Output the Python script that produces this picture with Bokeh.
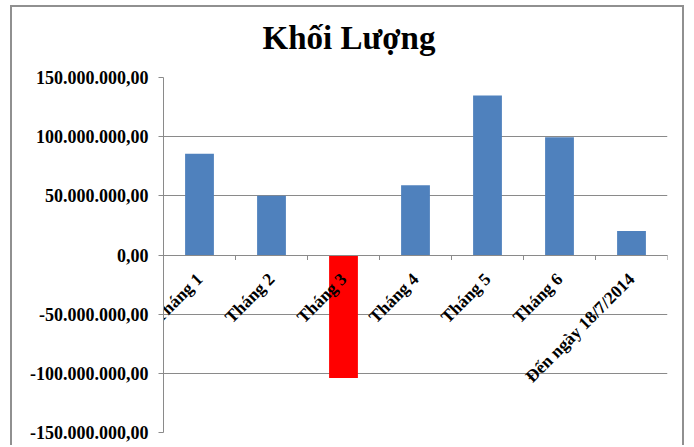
import math
from bokeh.plotting import figure
from bokeh.models import ColumnDataSource, FixedTicker, Range1d, FactorRange, Title
from bokeh.transform import dodge
from bokeh.embed import file_html
from bokeh.resources import INLINE

title_text = "Khối Lượng"
categories = ["Tháng 1", "Tháng 2", "Tháng 3", "Tháng 4", "Tháng 5", "Tháng 6",
              "Đến ngày 18/7/2014"]
volumes = [85_600_000, 50_000_000, -104_000_000, 59_000_000, 134_700_000,
           99_500_000, 20_300_000]
y_ticks = [-150_000_000, -100_000_000, -50_000_000, 0, 50_000_000,
           100_000_000, 150_000_000]
y_tick_labels = ["-150.000.000,00", "-100.000.000,00", "-50.000.000,00", "0,00",
                 "50.000.000,00", "100.000.000,00", "150.000.000,00"]

POS_COLOR = "#4F81BD"
NEG_COLOR = "#FF0000"
GRID = "#8a8a8a"
FONT = "Liberation Serif"

colors = [POS_COLOR if v >= 0 else NEG_COLOR for v in volumes]
src = ColumnDataSource(dict(cat=categories, vol=volumes, color=colors,
                            zero=[0] * len(categories)))

p = figure(width=674, height=440, title=None,
           x_range=FactorRange(factors=categories),
           y_range=Range1d(y_ticks[0], y_ticks[-1]),
           output_backend="svg", toolbar_location=None,
           min_border_left=151, min_border_right=19,
           min_border_top=70, min_border_bottom=15)
p.styles = {"margin-left": "10px", "margin-top": "5px",
            "border": "2px solid #909090", "border-bottom": "none"}
p.outline_line_color = None
p.xgrid.visible = False

# spacer between frame and title (keeps the title higher above the plot)
p.add_layout(Title(text=" ", text_font_size="13px", standoff=0), "above")
p.add_layout(Title(text=title_text, align="left", offset=99,
                   text_font=FONT, text_font_style="bold",
                   text_font_size="33px", text_color="black", standoff=10),
             "above")

# category axis drawn on the zero line
xa = p.xaxis[0]
xa.fixed_location = 0
xa.axis_line_color = GRID
xa.major_tick_line_color = None
xa.minor_tick_line_color = None
xa.major_tick_in = 0
xa.major_tick_out = 0
xa.major_label_orientation = math.pi / 4
xa.major_label_standoff = 21
xa.major_label_text_font = FONT
xa.major_label_text_font_style = "bold"
xa.major_label_text_font_size = "17.5px"
xa.major_label_text_color = "black"

yt = FixedTicker(ticks=y_ticks)
p.yaxis.ticker = yt
p.yaxis.major_label_overrides = {t: l for t, l in zip(y_ticks, y_tick_labels)}
p.yaxis.minor_tick_line_color = None
p.yaxis.major_tick_in = 0
p.yaxis.major_tick_out = 5
p.yaxis.major_tick_line_color = GRID
p.yaxis.axis_line_color = GRID
p.yaxis.major_label_standoff = 10
p.yaxis.major_label_text_font = FONT
p.yaxis.major_label_text_font_style = "bold"
p.yaxis.major_label_text_font_size = "18px"
p.yaxis.major_label_text_color = "black"
p.ygrid.ticker = yt
p.ygrid.grid_line_color = GRID

p.vbar(x="cat", top="vol", bottom=0, width=0.4, fill_color="color",
       line_color=None, source=src)

# tick marks between categories, below the zero line
p.ray(x=dodge("cat", 0.5, range=p.x_range), y="zero", length=5,
      length_units="screen", angle=-math.pi / 2, line_color=GRID, source=src)

open("out.html", "w").write(file_html(p, INLINE))
